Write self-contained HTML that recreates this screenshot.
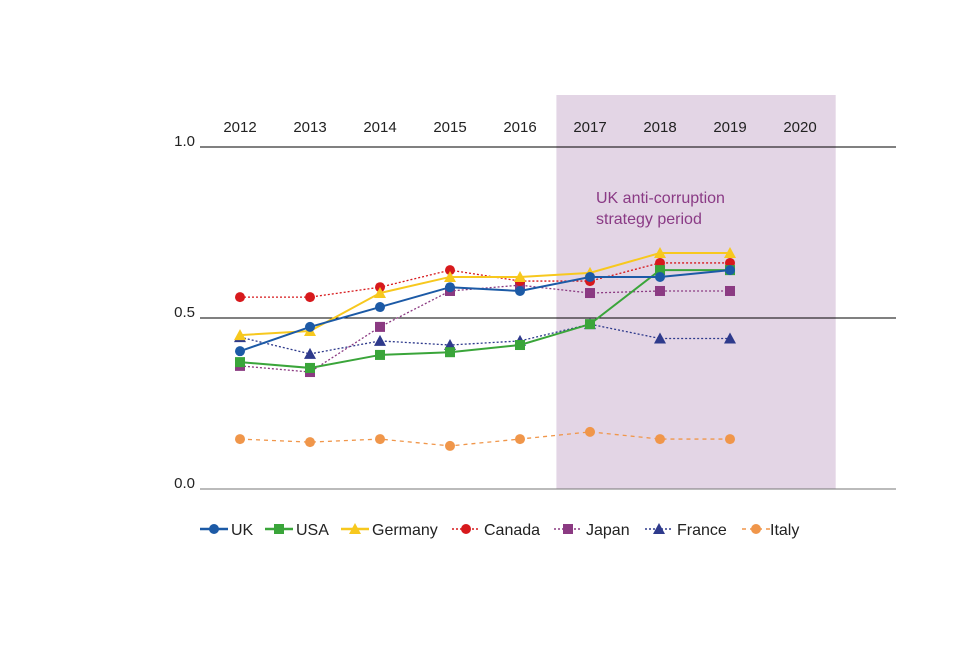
<!DOCTYPE html>
<html><head><meta charset="utf-8"><style>
body{margin:0;background:#fff;font-family:"Liberation Sans",sans-serif}
svg text{font-family:"Liberation Sans",sans-serif}
</style></head><body>
<svg id="chart" width="960" height="640" xmlns="http://www.w3.org/2000/svg"></svg>
<script>
const years=[2012,2013,2014,2015,2016,2017,2018,2019,2020];
const yTicks=[0,0.5,1.0];
const uk=[0.403,0.474,0.532,0.59,0.579,0.62,0.62,0.64];
const usa=[0.371,0.354,0.392,0.40,0.421,0.482,0.64,0.64];
const germany=[0.45,0.462,0.573,0.62,0.62,0.632,0.69,0.69];
const canada=[0.561,0.561,0.59,0.64,0.608,0.608,0.661,0.661];
const japan=[0.36,0.342,0.474,0.579,0.596,0.573,0.579,0.579];
const france=[0.444,0.395,0.433,0.421,0.433,0.482,0.44,0.44];
const italy=[0.146,0.137,0.146,0.126,0.146,0.167,0.146,0.146];
const NS='http://www.w3.org/2000/svg';
const svg=document.getElementById('chart');
const x=i=>240+i*70;
const y=v=>489-v*342;
function mk(tag,attrs,parent){const e=document.createElementNS(NS,tag);for(const k in attrs)e.setAttribute(k,attrs[k]);(parent||svg).appendChild(e);return e;}
let shade=mk('rect',{x:x(4.52),y:95,width:x(8.51)-x(4.52),height:394,fill:'#e3d5e5'});


yTicks.forEach(t=>{
 let l=mk('line',{x1:200,x2:896,y1:y(t),y2:y(t),stroke:t===0?'#777':'#000','stroke-width':1});
 
 
 let tx=mk('text',{x:195,y:y(t)-1,'text-anchor':'end','font-size':15,fill:'#222'});
 tx.textContent=t.toFixed(1);
 
 
});
years.forEach((yr,i)=>{
 let tx=mk('text',{x:x(i),y:132,'text-anchor':'middle','font-size':15,fill:'#222'});
 tx.textContent=yr;
 
 
});
let ann=mk('text',{x:596,y:203,'font-size':16,fill:'#8a3a85'});
ann.textContent='UK anti-corruption';


let ann2=mk('text',{x:596,y:224,'font-size':16,fill:'#8a3a85'});
ann2.textContent='strategy period';


function marker(shape,cx,cy,color,g){
 if(shape==='c')return mk('circle',{cx,cy,r:5,fill:color},g);
 if(shape==='s')return mk('rect',{x:cx-5,y:cy-5,width:10,height:10,fill:color},g);
 return mk('polygon',{points:`${cx},${cy-6} ${cx+6},${cy+5} ${cx-6},${cy+5}`,fill:color},g);
}
const series=[
 ['italy',italy,'#f0964a','4,4','c','Italy',742,770],
 ['france',france,'#2e3a8c','2,2','t','France',645,677],
 ['japan',japan,'#8b3a82','2,2','s','Japan',554,586],
 ['canada',canada,'#d7191c','2,2','c','Canada',452,484],
 ['germany',germany,'#f7c81e','','t','Germany',341,372],
 ['usa',usa,'#3aa53a','','s','USA',265,296],
 ['uk',uk,'#1c5aa6','','c','UK',200,231]];
series.forEach(([n,d,c,da,sh,lab,lx,tx])=>{
 const g=mk('g',{});
 
 
 mk('polyline',{points:d.map((v,i)=>x(i)+','+y(v)).join(' '),fill:'none',stroke:c,'stroke-width':da?1.3:2,'stroke-dasharray':da},g);
 d.forEach((v,i)=>{const m=marker(sh,x(i),y(v),c,g);});
 const lg=mk('g',{});
 
 
 mk('line',{x1:lx,x2:lx+28,y1:529,y2:529,stroke:c,'stroke-width':da?1.5:2.5,'stroke-dasharray':da},lg);
 marker(sh,lx+14,529,c,lg);
 const t=mk('text',{x:tx,y:535,'font-size':16,fill:'#222'},lg);t.textContent=lab;
});
</script>
</body></html>
